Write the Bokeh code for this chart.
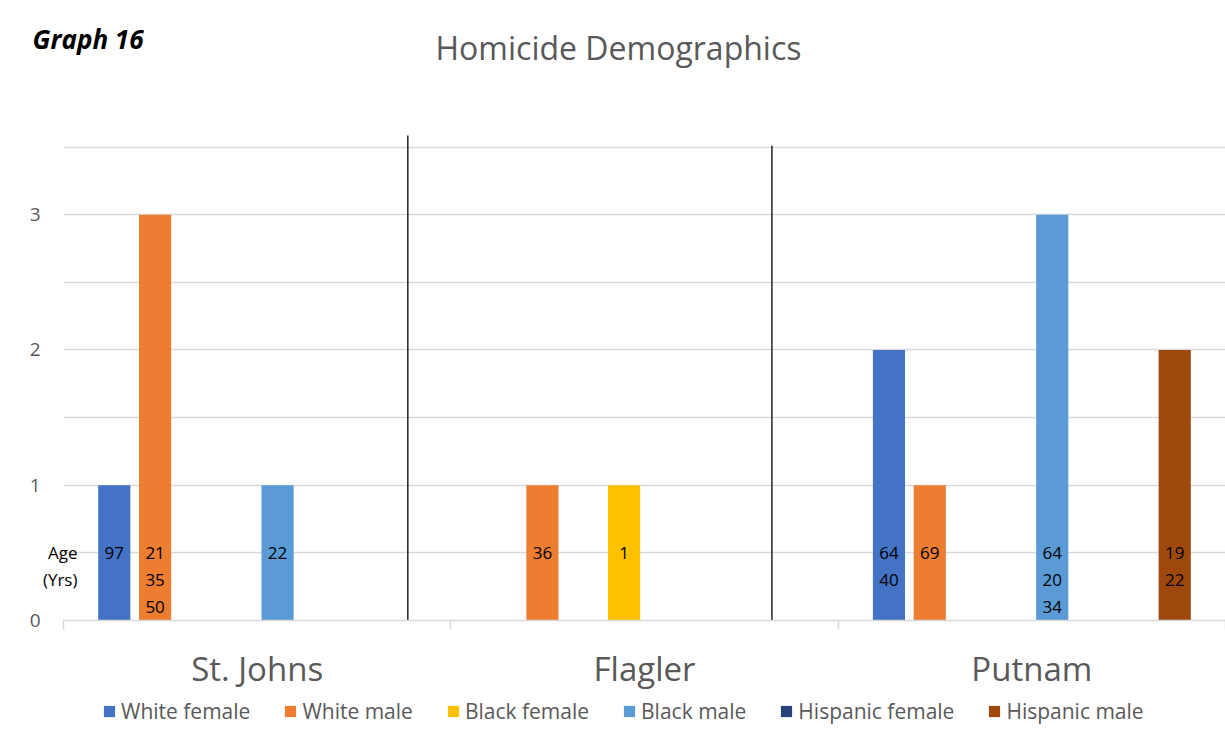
from bokeh.plotting import figure
from bokeh.models import (FixedTicker, Legend, LegendItem, ColumnDataSource,
                          LinearAxis, Label)
from bokeh.layouts import column
from bokeh.core.properties import value
from bokeh.embed import file_html
from bokeh.resources import INLINE

# ---------------- data ----------------
counties = ["St. Johns", "Flagler", "Putnam"]
series_names = ["White female", "White male", "Black female", "Black male",
                "Hispanic female", "Hispanic male"]
series_colors = ["#4472C4", "#ED7D31", "#FFC000", "#5B9BD5", "#264478", "#9E480E"]

white_female = [1, 0, 2]
white_male = [3, 1, 1]
black_female = [0, 1, 0]
black_male = [1, 0, 3]
hispanic_female = [0, 0, 0]
hispanic_male = [0, 0, 2]

white_female_ages = [[97], [], [64, 40]]
white_male_ages = [[21, 35, 50], [36], [69]]
black_female_ages = [[], [1], []]
black_male_ages = [[22], [], [64, 20, 34]]
hispanic_female_ages = [[], [], []]
hispanic_male_ages = [[], [], [19, 22]]

y_ticks = [0, 1, 2, 3]
grid_ticks = [0, 0.5, 1, 1.5, 2, 2.5, 3, 3.5]
age_caption = ["Age", "(Yrs)"]
title_text = "Homicide Demographics"
graph_tag = "Graph 16"

counts = [white_female, white_male, black_female, black_male, hispanic_female, hispanic_male]
ages = [white_female_ages, white_male_ages, black_female_ages, black_male_ages,
        hispanic_female_ages, hispanic_male_ages]

# ---------------- layout ----------------
W = 1225
LEFT = 63
TOP_H = 100
LEG_H = 50
MAIN_H = 744 - TOP_H - LEG_H
series_slot = [0, 1, 3, 4, 6, 7]   # slot within an 8-slot cluster
slot_step = 0.1054
bar_width = 0.083
age_rows = [0.5, 0.3, 0.1]
divider_x = [0.889, 1.829]
divider_top = [3.585, 3.51]
FONT = "Open Sans"
GRAY = "#595959"

# ---------- header (title) ----------
top = figure(width=W, height=TOP_H, x_range=(LEFT, W), y_range=(0, TOP_H),
             x_axis_type=None, output_backend="svg",
             toolbar_location=None, min_border=0, min_border_left=LEFT)
top.outline_line_color = None
top.grid.visible = False
top.add_layout(Label(x=618, y=TOP_H - 47, text=title_text, text_align="center",
                     text_baseline="middle", text_font=FONT, text_font_size="32px",
                     text_color=GRAY))
tag_y = TOP_H - 38
top.yaxis.ticker = FixedTicker(ticks=[tag_y], minor_ticks=[])
top.yaxis.major_label_overrides = {tag_y: graph_tag}
top.yaxis.axis_line_color = None
top.yaxis.major_tick_line_color = None
top.yaxis.major_tick_out = 0
top.yaxis.major_tick_in = 0
top.yaxis.minor_tick_out = 0
top.yaxis.minor_tick_in = 0
top.yaxis.major_label_standoff = -80
top.yaxis.major_label_text_font = FONT
top.yaxis.major_label_text_font_size = "26px"
top.yaxis.major_label_text_font_style = "bold italic"
top.yaxis.major_label_text_color = "black"

# ---------- main chart ----------
p = figure(width=W, height=MAIN_H, x_range=(0, 3), y_range=(0, 3.6),
           output_backend="svg", toolbar_location=None,
           min_border_left=LEFT, min_border_right=0, min_border_top=133 - TOP_H,
           min_border_bottom=(744 - LEG_H) - 620)
p.outline_line_color = None

p.xgrid.visible = False
p.ygrid.ticker = FixedTicker(ticks=grid_ticks)
p.ygrid.grid_line_color = "#D9D9D9"
p.ygrid.grid_line_width = 1.5

centers = [i + 0.5 for i in range(len(counties))]
p.xaxis.ticker = FixedTicker(ticks=centers, minor_ticks=[float(i) for i in range(len(counties) + 1)])
p.xaxis.major_label_overrides = {c: n for c, n in zip(centers, counties)}
p.xaxis.major_tick_line_color = None
p.xaxis.major_tick_out = 0
p.xaxis.major_tick_in = 0
p.xaxis.minor_tick_line_color = "#D9D9D9"
p.xaxis.minor_tick_line_width = 1.5
p.xaxis.minor_tick_in = 0
p.xaxis.minor_tick_out = 9
p.xaxis.axis_line_color = "#D9D9D9"
p.xaxis.axis_line_width = 1.5
p.xaxis.major_label_standoff = 16
p.xaxis.major_label_text_font = FONT
p.xaxis.major_label_text_font_size = "33px"
p.xaxis.major_label_text_color = GRAY

p.yaxis.ticker = FixedTicker(ticks=y_ticks, minor_ticks=[])
p.yaxis.axis_line_color = None
p.yaxis.major_tick_line_color = None
p.yaxis.major_tick_out = 0
p.yaxis.major_tick_in = 0
p.yaxis.minor_tick_line_color = None
p.yaxis.minor_tick_out = 0
p.yaxis.major_label_standoff = 23
p.yaxis.major_label_text_font = FONT
p.yaxis.major_label_text_font_size = "19px"
p.yaxis.major_label_text_color = GRAY

age_axis = LinearAxis(ticker=FixedTicker(ticks=age_rows[:2], minor_ticks=[]),
                      major_label_overrides={r: t for r, t in zip(age_rows[:2], age_caption)},
                      axis_line_color=None, major_tick_line_color=None,
                      minor_tick_line_color=None, major_tick_out=0, major_tick_in=0,
                      minor_tick_out=0, minor_tick_in=0, major_label_standoff=-51,
                      major_label_text_font=FONT, major_label_text_font_size="17px",
                      major_label_text_color="black")
p.add_layout(age_axis, "left")

# ---------- legend strip ----------
leg = figure(width=W, height=LEG_H, x_range=(0, 3), y_range=(10, 11),
             x_axis_type=None, y_axis_type=None, output_backend="svg",
             toolbar_location=None, min_border=0, min_border_left=LEFT)
leg.outline_line_color = None
leg.grid.visible = False

legend_items = []
for s, name in enumerate(series_names):
    xs = [c + (series_slot[s] - 3.5) * slot_step for c in centers]
    src = ColumnDataSource(dict(x=xs, top=counts[s]))
    p.vbar(x="x", top="top", width=bar_width, source=src,
           fill_color=series_colors[s], line_color=None)
    lr = leg.vbar(x="x", top="top", width=bar_width, source=src,
                  fill_color=series_colors[s], line_color=None)
    legend_items.append(LegendItem(label=name, renderers=[lr]))
    tx, ty, tt = [], [], []
    for g in range(len(counties)):
        for k, a in enumerate(ages[s][g]):
            tx.append(xs[g]); ty.append(age_rows[k]); tt.append(str(a))
    if tt:
        p.text(x=tx, y=ty, text=tt, text_align="center", text_baseline="middle",
               text_font=value(FONT), text_font_size="17px", text_color="black")

p.segment(x0=divider_x, y0=[0, 0], x1=divider_x, y1=divider_top,
          line_color="black", line_width=1.3)

legend = Legend(items=legend_items, orientation="horizontal", location=(39, 19),
                label_text_font=FONT, label_text_font_size="21px",
                label_text_color=GRAY, glyph_width=14, glyph_height=14,
                label_standoff=5, spacing=33, padding=0, margin=0,
                border_line_color=None, background_fill_alpha=0)
leg.add_layout(legend, "center")

layout = column(top, p, leg, spacing=0)
open("out.html", "w").write(file_html(layout, INLINE))
